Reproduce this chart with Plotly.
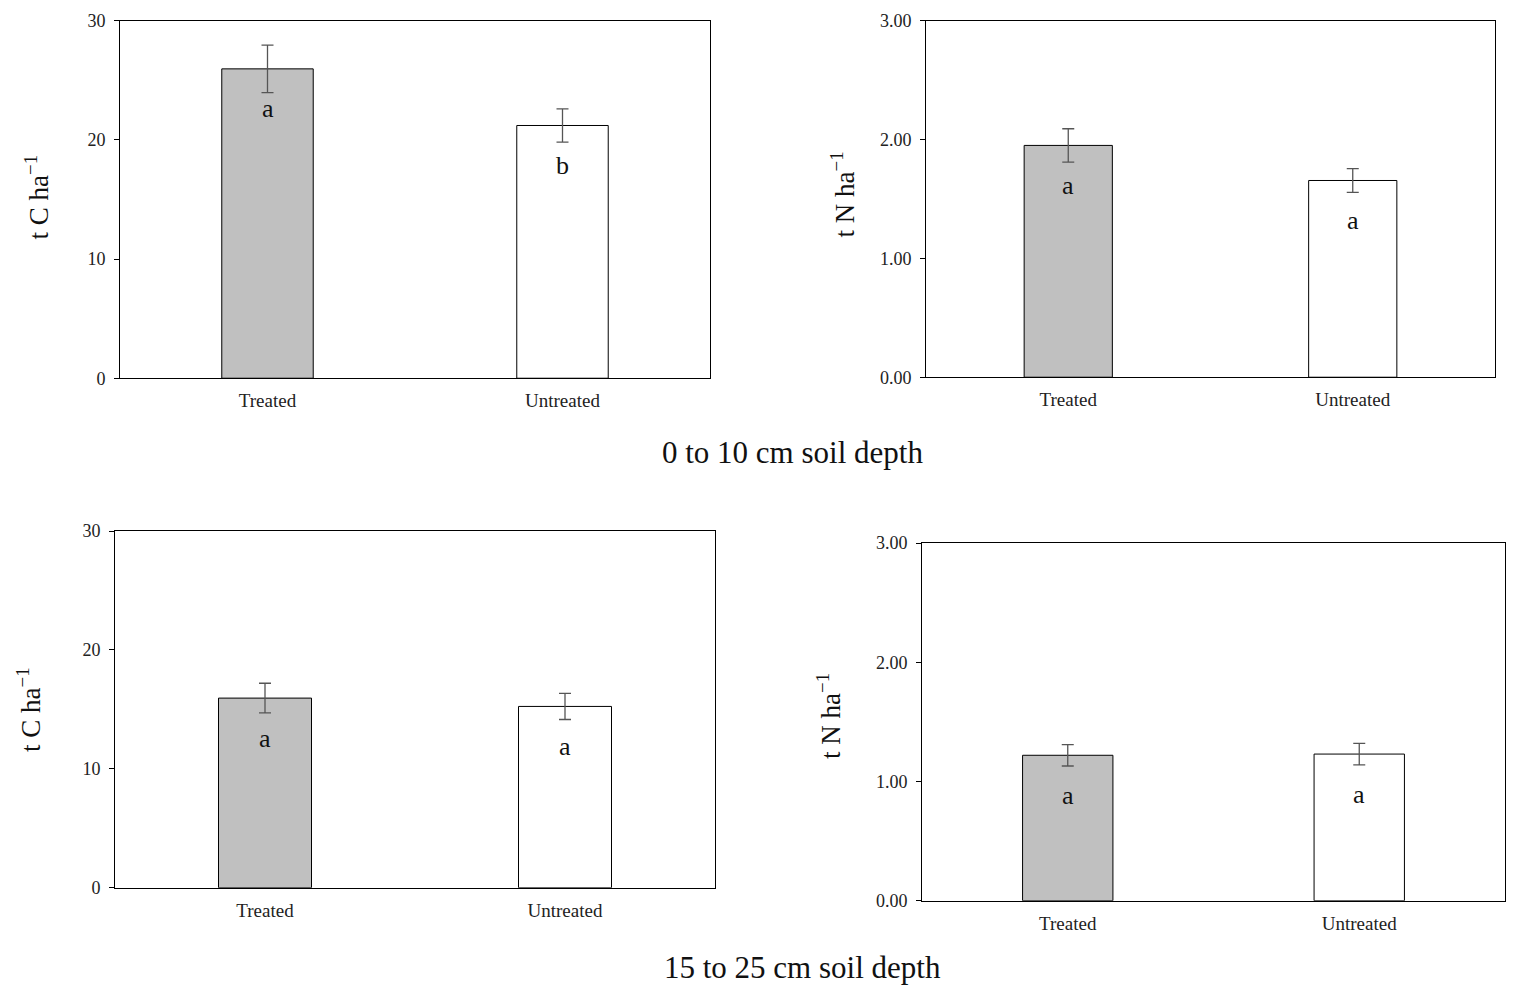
import plotly.graph_objects as go

categories = ["Treated", "Untreated"]

# 0-10 cm depth
c_top = [25.95, 21.2]
c_top_err = [2.0, 1.4]
n_top = [1.95, 1.655]
n_top_err = [0.14, 0.10]
# 15-25 cm depth
c_bot = [15.95, 15.25]
c_bot_err = [1.25, 1.1]
n_bot = [1.22, 1.23]
n_bot_err = [0.09, 0.09]

letters_c_top = ["a", "b"]
letters_n_top = ["a", "a"]
letters_c_bot = ["a", "a"]
letters_n_bot = ["a", "a"]

c_ticks = [0, 10, 20, 30]
n_ticks = [0, 1, 2, 3]

W, H = 1522, 1001
FONT = "Liberation Serif, Times New Roman, serif"

# vertical calibration of the rendered page (observed: out = 0.981*y + 9.4)
SY, OY = 0.981, 9.4


def vy(y):
    return (y - OY) / SY


def px(x0, x1):
    return [x0 / W, x1 / W]


def py(top, bottom):
    return [1 - vy(bottom) / H, 1 - vy(top) / H]


panels = [
    dict(vals=c_top, err=c_top_err, letters=letters_c_top, dom_x=px(120, 710), dom_y=py(20, 378),
         rng=[0, 30], ticks=c_ticks, fmt="d", title="t C ha<sup>−1</sup>", tx=37, ty=197),
    dict(vals=n_top, err=n_top_err, letters=letters_n_top, dom_x=px(926, 1495), dom_y=py(20, 377),
         rng=[0, 3], ticks=n_ticks, fmt=".2f", title="t N ha<sup>−1</sup>", tx=843, ty=194),
    dict(vals=c_bot, err=c_bot_err, letters=letters_c_bot, dom_x=px(115, 715), dom_y=py(531, 888),
         rng=[0, 30], ticks=c_ticks, fmt="d", title="t C ha<sup>−1</sup>", tx=29, ty=710),
    dict(vals=n_bot, err=n_bot_err, letters=letters_n_bot, dom_x=px(922, 1505), dom_y=py(543, 901),
         rng=[0, 3], ticks=n_ticks, fmt=".2f", title="t N ha<sup>−1</sup>", tx=829, ty=716),
]

fig = go.Figure()
annotations = []
layout = {}
for i, p in enumerate(panels, start=1):
    xa = "x" if i == 1 else f"x{i}"
    ya = "y" if i == 1 else f"y{i}"
    fig.add_trace(go.Bar(
        x=[0, 1], y=p["vals"], width=0.31,
        marker=dict(color=["#c0c0c0", "#ffffff"], line=dict(color="#000000", width=1)),
        error_y=dict(type="data", array=p["err"], color="#555555", thickness=1.3, width=6),
        xaxis=xa, yaxis=ya, showlegend=False, hoverinfo="skip",
    ))
    layout[f"xaxis{'' if i == 1 else i}"] = dict(
        domain=p["dom_x"], anchor=ya, range=[-0.5, 1.5], tickvals=[0, 1], ticktext=categories,
        showline=True, linecolor="#000000", linewidth=1, mirror=True, ticks="", showgrid=False,
        zeroline=False, ticklabelstandoff=5,
        tickfont=dict(family=FONT, size=19, color="#222222"), fixedrange=True,
    )
    layout[f"yaxis{'' if i == 1 else i}"] = dict(
        domain=p["dom_y"], anchor=xa, range=p["rng"], tickvals=p["ticks"], tickformat=p["fmt"],
        showline=True, linecolor="#000000", linewidth=1, mirror=True, ticks="outside",
        ticklen=5, tickcolor="#000000", showgrid=False, zeroline=False, ticklabelstandoff=5,
        tickfont=dict(family=FONT, size=18, color="#222222"), fixedrange=True,
    )
    for j, (v, lt) in enumerate(zip(p["vals"], p["letters"])):
        annotations.append(dict(
            x=j, y=v, xref=xa, yref=ya, text=lt, showarrow=False, xanchor="center",
            yanchor="middle", yshift=-40, font=dict(family=FONT, size=26, color="#111111"),
        ))
    annotations.append(dict(
        x=p["tx"] / W, y=1 - vy(p["ty"]) / H, xref="paper", yref="paper", text=p["title"],
        textangle=-90, showarrow=False, xanchor="center", yanchor="middle",
        font=dict(family=FONT, size=27, color="#111111"),
    ))

annotations.append(dict(x=793 / W, y=1 - vy(452) / H, xref="paper", yref="paper",
                        text="0 to 10 cm soil depth", showarrow=False,
                        xanchor="center", yanchor="middle",
                        font=dict(family=FONT, size=31, color="#111111")))
annotations.append(dict(x=802 / W, y=1 - vy(968) / H, xref="paper", yref="paper",
                        text="15 to 25 cm soil depth", showarrow=False,
                        xanchor="center", yanchor="middle",
                        font=dict(family=FONT, size=31, color="#111111")))

fig.update_layout(
    width=W, height=H, autosize=False, margin=dict(l=0, r=0, t=0, b=0, pad=0),
    paper_bgcolor="white", plot_bgcolor="white",
    annotations=annotations, **layout,
)

fig.write_html("out.html", config={"responsive": False, "displayModeBar": False},
               post_script="document.body.style.margin='0';document.body.style.overflow='hidden';")
